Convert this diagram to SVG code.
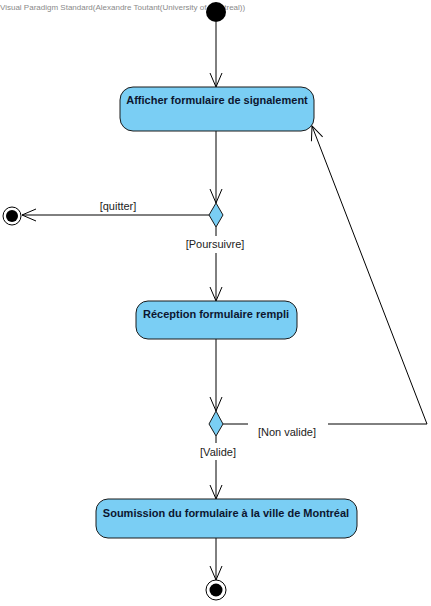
<svg xmlns="http://www.w3.org/2000/svg" width="431" height="606" viewBox="0 0 431 606">
<defs>
<marker id="open" viewBox="0 0 16 14" refX="15" refY="7" markerWidth="16" markerHeight="14" markerUnits="userSpaceOnUse" orient="auto">
<path d="M1,1 L15,7 L1,13" fill="none" stroke="#000" stroke-width="1"/>
</marker>
<style>
.act{fill:#7acef4;stroke:#1a1a1a;stroke-width:1}
.lbl{font-family:"Liberation Sans",Arial,sans-serif;font-weight:bold;font-size:11px;fill:#0c1630;text-anchor:middle}
.grd{font-family:"Liberation Sans",Arial,sans-serif;font-size:11px;fill:#222;text-anchor:middle}
.dec{fill:#7acef4;stroke:#1a1a1a;stroke-width:1}
.edge{fill:none;stroke:#000;stroke-width:1}
</style>
</defs>
<rect width="431" height="606" fill="#fff"/>
<g id="connectors">
<line class="edge" x1="216" y1="22" x2="216" y2="87" marker-end="url(#open)"/>
<line class="edge" x1="216" y1="131" x2="216" y2="203" marker-end="url(#open)"/>
<line class="edge" x1="209" y1="215" x2="22" y2="215" marker-end="url(#open)"/>
<line class="edge" x1="216" y1="227" x2="216" y2="236"/>
<line class="edge" x1="216" y1="253" x2="216" y2="301" marker-end="url(#open)"/>
<line class="edge" x1="216" y1="339" x2="216" y2="411" marker-end="url(#open)"/>
<line class="edge" x1="223" y1="424" x2="248" y2="424"/>
<polyline class="edge" points="328,424 427,424 312,126" marker-end="url(#open)"/>
<line class="edge" x1="216" y1="436" x2="216" y2="443"/>
<line class="edge" x1="216" y1="460" x2="216" y2="499" marker-end="url(#open)"/>
<line class="edge" x1="216" y1="538" x2="216" y2="580" marker-end="url(#open)"/>
<text class="grd" x="118" y="210">[quitter]</text>
<text class="grd" x="215" y="248">[Poursuivre]</text>
<text class="grd" x="287" y="436">[Non valide]</text>
<text class="grd" x="218" y="456">[Valide]</text>
</g>
<text x="0" y="10" font-family="Liberation Sans,Arial,sans-serif" font-size="8" fill="#8a8a8a">Visual Paradigm Standard(Alexandre Toutant(University of Montreal))</text>
<g id="initial"><circle cx="216" cy="12" r="10" fill="#000"/></g>
<g id="afficher">
<rect class="act" x="120" y="87" width="194" height="44" rx="13"/>
<text class="lbl" x="217" y="104">Afficher formulaire de signalement</text>
</g>
<g id="decision1"><polygon class="dec" points="216,203 223,215 216,227 209,215"/></g>
<g id="final-quitter">
<circle cx="12" cy="216" r="9" fill="#fff" stroke="#000" stroke-width="1"/>
<circle cx="12" cy="216" r="6" fill="#000"/>
</g>
<g id="reception">
<rect class="act" x="136" y="301" width="161" height="38" rx="12"/>
<text class="lbl" x="216" y="318">Réception formulaire rempli</text>
</g>
<g id="decision2"><polygon class="dec" points="216,411 223,424 216,436 209,424"/></g>
<g id="soumission">
<rect class="act" x="96" y="499" width="261" height="39" rx="12"/>
<text class="lbl" x="226" y="517">Soumission du formulaire à la ville de Montréal</text>
</g>
<g id="final">
<circle cx="216" cy="590" r="10" fill="#fff" stroke="#000" stroke-width="1"/>
<circle cx="216" cy="590" r="6.5" fill="#000"/>
</g>
</svg>
